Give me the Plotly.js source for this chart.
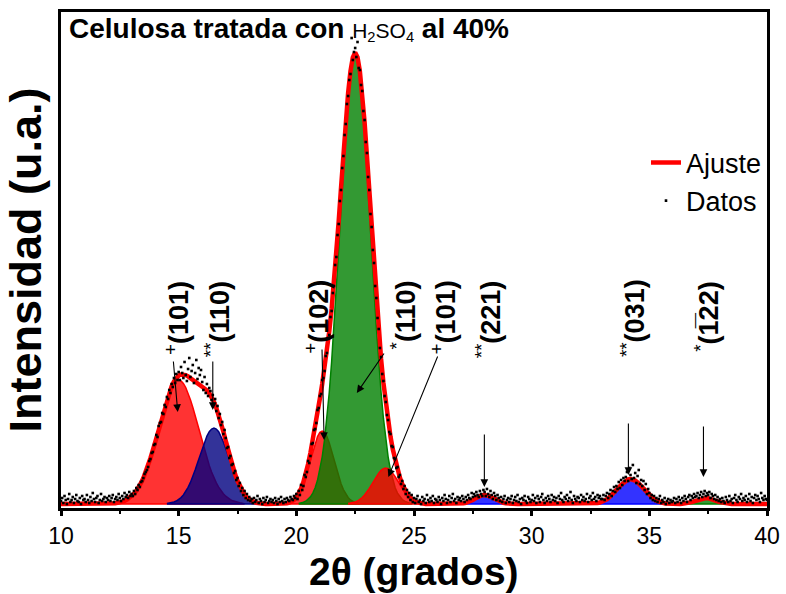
<!DOCTYPE html>
<html><head><meta charset="utf-8">
<script src="https://cdn.plot.ly/plotly-3.0.1.min.js"></script>
<style>body{margin:0;background:#fff}#chart{width:786px;height:594px}</style>
</head><body><div id="chart"></div>
<script>
// ---- data (intensity in arbitrary units) ----
const baseline = 4;
const gridStart = 10, gridStep = 0.1, gridCount = 301;
const dataStart = 10, dataStep = 0.05;
const datos = [
7,10,5,12,8,4,9,14,6,8,11,5,9,13,7,6,10,4,12,8,
9,6,13,8,5,11,7,15,9,6,10,12,5,8,14,7,9,11,6,10,
8,12,7,10,13,6,9,11,8,14,10,7,12,9,15,11,13,10,16,12,
14,12,17,14,20,18,23,21,26,27,30,34,36,38,41,47,49,55,56,63,
64,73,71,82,85,86,95,94,103,101,111,109,118,115,124,121,130,125,134,128,
136,128,141,135,130,146,133,127,139,150,131,137,143,125,135,148,129,140,133,138,
126,118,131,115,124,112,120,117,108,113,104,109,97,102,90,94,83,86,74,78,
70,60,61,50,52,43,44,35,37,28,30,22,25,17,20,13,17,10,14,8,
11,7,9,5,10,6,8,12,5,9,7,4,10,6,8,11,5,7,9,6,
8,5,10,7,4,9,6,11,7,5,9,6,10,8,7,11,9,8,12,10,
14,9,17,13,23,18,22,33,31,36,47,45,52,64,65,78,79,85,98,100,
112,114,128,130,137,152,155,170,173,191,197,215,222,243,251,273,284,307,318,340,
352,373,384,404,412,428,434,470,448,456,460,451,466,440,438,423,417,397,388,366,
355,331,318,294,281,258,245,222,210,190,179,160,151,134,127,112,106,93,88,76,
74,62,61,50,49,40,41,31,33,24,27,19,22,14,18,11,15,8,13,6,
10,5,9,12,6,8,4,11,7,9,5,13,8,6,10,7,12,5,9,8,
6,11,8,4,10,7,13,9,5,8,12,6,10,14,7,9,5,11,8,10,
7,12,9,6,11,8,13,10,9,15,11,14,12,16,13,11,17,14,12,18,
16,12,19,14,11,17,13,9,15,12,8,13,10,7,11,6,9,12,5,8,
10,6,9,12,5,8,11,7,13,6,9,4,10,8,12,7,5,11,9,6,
8,13,7,10,5,12,9,6,11,14,8,5,10,7,12,9,6,13,8,11,
7,10,5,12,9,15,8,6,11,9,13,7,10,16,8,5,12,9,7,11,
10,6,13,8,11,7,9,14,6,10,12,8,15,9,11,7,13,10,12,9,
9,13,8,12,15,10,14,18,12,17,21,16,22,19,26,20,28,23,30,27,
31,36,27,40,33,29,43,30,35,25,32,38,24,28,22,27,18,24,14,19,
15,10,13,8,12,7,10,6,9,12,5,8,6,10,4,7,9,5,8,6,
7,10,5,9,6,11,8,5,10,7,12,9,6,11,13,8,12,10,14,11,
12,15,10,13,16,11,14,17,12,15,13,16,10,14,12,9,13,8,11,7,
9,6,10,7,5,11,8,6,12,7,9,5,10,13,8,6,11,9,14,7,
10,8,12,6,9,14,7,11,5,10,13,8,12,9,6,15,10,8,12,9,
8];

// fitted peak components (height above baseline), sampled every 0.1 degree
const comp1Start = 12.2;
const comp1 = [0.5,0.8,1.2,1.6,2.3,3.2,4.4,5.9,7.8,10.2,13.2,16.8,21.1,26.1,31.9,38.5,45.8,53.7,62.1,70.8,79.6,88.3,96.7,104.3,111,116.5,120.6,123.1,124,123.1,120.6,116.5,111,104.3,96.7,88.3,79.6,70.8,62.1,53.7,45.8,38.5,31.9,26.1,21.1,16.8,13.2,10.2,7.8,5.9,4.4,3.2,2.3,1.6,1.2,0.8,0.5];
const comp2Start = 14.5;
const comp2 = [0.5,0.8,1.3,2.0,3.0,4.5,6.4,9.0,12.4,16.6,21.6,27.4,33.9,41.0,48.3,55.5,62.1,67.9,72.3,75.0,76,75.0,72.3,67.9,62.1,55.5,48.3,41.0,33.9,27.4,21.6,16.6,12.4,9.0,6.4,4.5,3.0,2.0,1.3,0.8,0.5];
const comp3Start = 19.5;
const comp3 = [0.4,0.8,1.4,2.5,4.1,6.5,9.9,14.4,20.3,27.4,35.5,44.3,53.0,61.0,67.4,71.6,73,71.6,67.4,61.0,53.0,44.3,35.5,27.4,20.3,14.4,9.9,6.5,4.1,2.5,1.4,0.8,0.4];
const comp4Start = 20.1;
const comp4 = [0.6,1.0,1.7,2.8,4.5,7.1,10.9,16.2,23.7,33.9,47.2,64.4,85.8,111.7,142.2,176.8,214.9,255.3,296.4,336.2,372.8,404.1,427.9,442.9,448,442.9,427.9,404.1,372.8,336.2,296.4,255.3,214.9,176.8,142.2,111.7,85.8,64.4,47.2,33.9,23.7,16.2,10.9,7.1,4.5,2.8,1.7,1.0,0.6];
const comp5Start = 22.2;
const comp5 = [0.4,0.8,1.2,2.0,3.0,4.5,6.5,9.0,12.0,15.5,19.4,23.5,27.4,30.9,33.6,35.4,36,35.4,33.6,30.9,27.4,23.5,19.4,15.5,12.0,9.0,6.5,4.5,3.0,2.0,1.2,0.8,0.4];
const comp6Start = 27.0;
const comp6 = [0.4,0.7,1.2,1.9,2.9,4.1,5.5,6.8,7.9,8.7,9,8.7,7.9,6.8,5.5,4.1,2.9,1.9,1.2,0.7,0.4];
const comp7Start = 32.6;
const comp7 = [0.4,0.6,1.0,1.5,2.3,3.4,4.8,6.6,8.7,11.1,13.8,16.5,19.2,21.5,23.4,24.6,25,24.6,23.4,21.5,19.2,16.5,13.8,11.1,8.7,6.6,4.8,3.4,2.3,1.5,1.0,0.6,0.4];
const comp8Start = 36.4;
const comp8 = [0.3,0.5,0.8,1.3,1.9,2.7,3.6,4.5,5.3,5.8,6,5.8,5.3,4.5,3.6,2.7,1.9,1.3,0.8,0.5,0.3];

const peakLabels = ['(101)','(110)','(102)','(110)','(101)','(221)','(031)','(1\u030522)'];
const peakMarks  = ['+','**','+','*','+','**','**','*'];
const xTicks = [10,15,20,25,30,35,40];
const xTitle = '2\u03b8 (grados)';
const yTitle = 'Intensidad (u.a.)';

// ---- build traces ----
const FONT = 'Liberation Sans, Arial, Helvetica, sans-serif';
const comps = [
  {x0: comp1Start, v: comp1, fill: 'rgba(255,0,0,0.8)', line: 'rgb(255,0,0)'},
  {x0: comp2Start, v: comp2, fill: 'rgba(0,0,128,0.8)', line: 'rgb(0,0,128)'},
  {x0: comp3Start, v: comp3, fill: 'rgba(255,0,0,0.8)', line: 'rgb(255,0,0)'},
  {x0: comp4Start, v: comp4, fill: 'rgba(0,128,0,0.8)', line: 'rgb(0,128,0)'},
  {x0: comp5Start, v: comp5, fill: 'rgba(255,0,0,0.8)', line: 'rgb(255,0,0)'},
  {x0: comp6Start, v: comp6, fill: 'rgba(0,0,255,0.8)', line: 'rgb(0,0,255)'},
  {x0: comp7Start, v: comp7, fill: 'rgba(0,0,255,0.8)', line: 'rgb(0,0,255)'},
  {x0: comp8Start, v: comp8, fill: 'rgba(0,128,0,0.8)', line: 'rgb(0,128,0)'}
];

const fitX = [], fitY = [];
for (let i = 0; i < gridCount; i++) { fitX.push((gridStart*10 + i)/10); fitY.push(baseline); }

const traces = [];
comps.forEach(c => {
  const off = Math.round((c.x0 - gridStart)/gridStep);
  const xs = c.v.map((_, i) => (Math.round(c.x0*10) + i)/10);
  const ys = c.v.map(v => baseline + v);
  c.v.forEach((v, i) => { fitY[off + i] += v; });
  traces.push({
    x: xs.concat(xs.slice().reverse()),
    y: ys.concat(xs.map(() => baseline)),
    type: 'scatter', mode: 'lines', fill: 'toself',
    fillcolor: c.fill, line: {color: c.line, width: 1.5},
    showlegend: false, hoverinfo: 'skip'
  });
});

traces.push({
  x: fitX, y: fitY, type: 'scatter', mode: 'lines', name: 'Ajuste',
  line: {color: 'rgb(255,0,0)', width: 4.5}
});
traces.push({
  x: datos.map((_, i) => (dataStart*100 + i*dataStep*100)/100), y: datos,
  type: 'scatter', mode: 'markers', name: 'Datos',
  marker: {color: 'black', size: 2.6, symbol: 'square'}
});

// ---- annotations ----
const labelPos = [[14.93,190],[16.62,188.5],[20.87,191],[24.53,193.5],[26.25,191],[28.16,189],[34.31,190],[37.44,191]];
const arrows = [
  [14.96,96,14.77,148],[16.45,98,16.45,148],[21.18,68,21.09,160],[22.57,115,23.77,156],
  [23.91,31,26.03,153],[27.99,21,27.99,75],[34.11,33,34.11,86],[37.30,31,37.30,83]
];
const annotations = [];
peakLabels.forEach((t, i) => {
  annotations.push({
    x: labelPos[i][0], y: labelPos[i][1], xref: 'x', yref: 'y',
    text: '<sup>' + peakMarks[i] + '</sup><b>' + t + '</b>',
    textangle: -90, showarrow: false,
    font: {family: FONT, size: 27, color: 'black'}
  });
});
arrows.forEach(a => {
  annotations.push({
    x: a[0], y: a[1], ax: a[2], ay: a[3], xref: 'x', yref: 'y', axref: 'x', ayref: 'y',
    text: '', showarrow: true, arrowhead: 2, arrowsize: 1.4, arrowwidth: 1.1,
    arrowcolor: 'black', standoff: 0, startstandoff: 0
  });
});
annotations.push({
  xref: 'paper', yref: 'paper', x: 0.0085, y: 0.966, xanchor: 'left', yanchor: 'middle',
  showarrow: false, align: 'left',
  text: '<b>Celulosa tratada con</b> <span style="font-size:21px">H<sub>2</sub>SO<sub>4</sub></span> <b>al 40%</b>',
  font: {family: FONT, size: 28, color: 'black'}
});
// x-axis title placed just below the tick labels
annotations.push({
  xref: 'paper', yref: 'paper', x: 0.5, y: -0.1734, xanchor: 'center', yanchor: 'bottom',
  showarrow: false, text: '<b>' + xTitle + '</b>',
  font: {family: FONT, size: 39, color: 'black'}, borderpad: 0
});

const layout = {
  width: 786, height: 594,
  margin: {l: 61, r: 19, t: 12, b: 86},
  paper_bgcolor: 'white', plot_bgcolor: 'white',
  font: {family: FONT, color: 'black'},
  showlegend: true,
  legend: {x: 1, xanchor: 'right', y: 0.745, yanchor: 'top', bgcolor: 'rgba(0,0,0,0)',
           font: {family: FONT, size: 27, color: 'black'}},
  xaxis: {
    range: [10, 40], tickvals: xTicks, ticktext: xTicks.map(String),
    ticks: 'outside', ticklen: 5, tickwidth: 3, tickcolor: 'black',
    minor: {dtick: 2.5, tick0: 10, ticks: 'outside', ticklen: 3, tickwidth: 2, tickcolor: 'black', showgrid: false},
    showline: true, linewidth: 3, linecolor: 'black', mirror: true,
    showgrid: false, zeroline: false,
    tickfont: {family: FONT, size: 23, color: 'black'}
  },
  yaxis: {
    range: [0, 496], showticklabels: false, ticks: '',
    showline: true, linewidth: 3, linecolor: 'black', mirror: true,
    showgrid: false, zeroline: false,
    title: {text: '<b>' + yTitle + '</b>', font: {family: FONT, size: 45, color: 'black'}, standoff: 12}
  },
  annotations: annotations
};

Plotly.newPlot('chart', traces, layout, {staticPlot: true, displayModeBar: false});
</script>
</body></html>
